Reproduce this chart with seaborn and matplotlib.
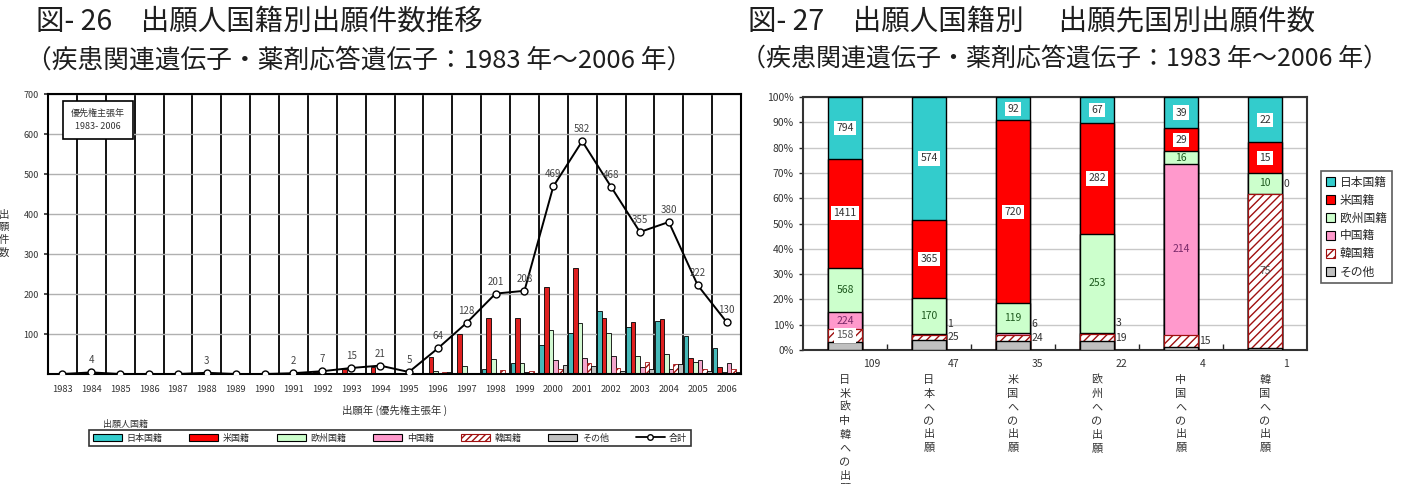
import numpy as np
import pandas as pd
import matplotlib
matplotlib.use("Agg")
import matplotlib.pyplot as plt
import seaborn as sns
from matplotlib.patches import Patch
from matplotlib.lines import Line2D

# ---------------- data (left: 図-26) ----------------
years = [str(y) for y in range(1983, 2007)]
nationalities = ["日本国籍", "米国籍", "欧州国籍", "中国籍", "韓国籍", "その他"]
jp_by_year    = [0, 0, 0, 0, 0, 0, 0, 0, 0, 0, 1, 2, 2, 2, 3, 12, 28, 72, 102, 157, 118, 132, 95, 64]
us_by_year    = [0, 4, 0, 0, 0, 3, 0, 0, 2, 6, 12, 18, 3, 43, 99, 139, 141, 218, 264, 141, 129, 137, 41, 17]
eu_by_year    = [0, 0, 0, 0, 0, 0, 0, 0, 0, 1, 2, 1, 0, 8, 21, 37, 27, 110, 127, 102, 46, 49, 31, 4]
cn_by_year    = [0, 0, 0, 0, 0, 0, 0, 0, 0, 0, 0, 0, 0, 0, 0, 0, 4, 35, 41, 46, 18, 12, 35, 28]
kr_by_year    = [0, 0, 0, 0, 0, 0, 0, 0, 0, 0, 0, 0, 0, 6, 2, 10, 7, 12, 28, 14, 31, 24, 12, 12]
other_by_year = [0, 0, 0, 0, 0, 0, 0, 0, 0, 0, 0, 0, 0, 5, 3, 3, 1, 22, 20, 8, 13, 26, 8, 5]
total_by_year = [0, 4, 0, 0, 0, 3, 0, 0, 2, 7, 15, 21, 5, 64, 128, 201, 208, 469, 582, 468, 355, 380, 222, 130]

# ---------------- data (right: 図-27) ----------------
destinations = ["日米欧中韓　への出願", "日本　への出願", "米国　への出願",
                "欧州　への出願", "中国　への出願", "韓国　への出願"]
dest_jp    = [794, 574, 92, 67, 39, 22]
dest_us    = [1411, 365, 720, 282, 29, 15]
dest_eu    = [568, 170, 119, 253, 16, 10]
dest_cn    = [224, 1, 6, 3, 214, 0]
dest_kr    = [158, 25, 24, 19, 15, 75]
dest_other = [109, 47, 35, 22, 4, 1]

# ---------------- style ----------------
sns.set_theme(style="white")
plt.rcParams["font.family"] = ["Noto Sans CJK JP", "DejaVu Sans"]
plt.rcParams["axes.unicode_minus"] = False

colors = {"日本国籍": "#33CCCC", "米国籍": "#FF0000", "欧州国籍": "#CCFFCC",
          "中国籍": "#FF99CC", "韓国籍": "#FFFFFF", "その他": "#C0C0C0"}
hatch_color = "#A01010"

W, H = 1401, 484
fig = plt.figure(figsize=(W / 100, H / 100), dpi=100)

def ax_rect(x0, y0, x1, y1):
    return [x0 / W, 1 - y1 / H, (x1 - x0) / W, (y1 - y0) / H]

# ================= LEFT CHART =================
ax1 = fig.add_axes(ax_rect(48, 94, 741, 374))
series = [jp_by_year, us_by_year, eu_by_year, cn_by_year, kr_by_year, other_by_year]
long = pd.DataFrame({
    "year": np.repeat([years], len(nationalities), axis=0).ravel(),
    "nat": np.repeat(nationalities, len(years)),
    "value": np.concatenate(series),
})
sns.barplot(data=long, x="year", y="value", hue="nat", order=years,
            hue_order=nationalities, palette=colors, width=0.96,
            edgecolor="black", linewidth=0.6, legend=False, ax=ax1)
for p in ax1.containers[4].patches:
    p.set_hatch("/////")
    p.set_edgecolor(hatch_color)

xpos = np.arange(len(years))
sns.lineplot(x=xpos, y=total_by_year, ax=ax1, color="black", linewidth=1.4,
             marker="o", markersize=5, markerfacecolor="white",
             markeredgecolor="black", markeredgewidth=1.0, zorder=5)
for xi, v in zip(xpos, total_by_year):
    if v > 0:
        ax1.annotate(str(v), (xi, v), xytext=(0, 5), textcoords="offset points",
                     ha="center", va="bottom", fontsize=7, color="#444444", zorder=6)

ax1.set_xlim(-0.5, len(years) - 0.5)
ax1.set_ylim(0, 700)
ax1.set_yticks(range(100, 701, 100))
ax1.set_xticks(xpos)
ax1.set_xticklabels(years, fontsize=6.7, color="#333333")
ax1.set_xticks(np.arange(-0.5, len(years), 1.0), minor=True)
ax1.tick_params(axis="y", labelsize=6.5, colors="#333333", length=3, direction="out", left=True)
ax1.tick_params(axis="x", which="both", length=0, pad=8)
ax1.grid(axis="y", which="major", color="#B0B0B0", linewidth=1.0)
ax1.grid(axis="x", which="minor", color="black", linewidth=1.3)
ax1.set_axisbelow(True)
for s in ax1.spines.values():
    s.set_color("black")
    s.set_linewidth(1.5)
ax1.set_xlabel("出願年 (優先権主張年 )", fontsize=7.5, color="#333333", labelpad=8)
ax1.set_ylabel("出\n願\n件\n数", rotation=0, fontsize=7.5, color="#333333",
               linespacing=1.35, labelpad=14, va="center")
ax1.text(0.072, 0.907, "優先権主張年\n1983- 2006", transform=ax1.transAxes,
         fontsize=6.5, color="#333333", ha="center", va="center", linespacing=1.6,
         bbox=dict(boxstyle="square,pad=0.85", fc="white", ec="black", lw=1.2), zorder=7)

# bottom legend
handles = []
for n in nationalities:
    if n == "韓国籍":
        handles.append(Patch(facecolor="white", edgecolor=hatch_color, hatch="/////", lw=0.8))
    else:
        handles.append(Patch(facecolor=colors[n], edgecolor="black", lw=0.8))
handles.append(Line2D([0], [0], color="black", lw=1.3, marker="o", markersize=4,
                      markerfacecolor="white", markeredgecolor="black"))
leg1 = fig.legend(handles, nationalities + ["合計"], ncol=7, loc="center",
                  bbox_to_anchor=(390 / W, 1 - 438 / H), fontsize=6.5, frameon=True,
                  fancybox=False, edgecolor="black", handlelength=3.2, handleheight=0.7,
                  columnspacing=3.0, handletextpad=0.5, borderpad=0.4)
leg1.get_frame().set_linewidth(1.2)
fig.text(103 / W, 1 - 424 / H, "出願人国籍", fontsize=6.5, color="#333333", va="center")

# ================= RIGHT CHART =================
ax2 = fig.add_axes(ax_rect(803, 97, 1307, 350))
dest_df = pd.DataFrame({"dest": destinations, "日本国籍": dest_jp, "米国籍": dest_us,
                        "欧州国籍": dest_eu, "中国籍": dest_cn, "韓国籍": dest_kr,
                        "その他": dest_other})
tot = dest_df[nationalities].sum(axis=1)
pct = dest_df[nationalities].div(tot, axis=0) * 100
stack_order = ["その他", "韓国籍", "中国籍", "欧州国籍", "米国籍", "日本国籍"]
cum = pct[stack_order].cumsum(axis=1)

for n in reversed(stack_order):
    is_kr = n == "韓国籍"
    sns.barplot(x=dest_df["dest"], y=cum[n], order=destinations, color=colors[n],
                saturation=1, width=0.4,
                edgecolor=hatch_color if is_kr else "black",
                linewidth=0.9 if is_kr else 1.0, ax=ax2, zorder=3)
    if is_kr:
        for p in ax2.containers[-1].patches:
            p.set_hatch("////")

label_color = {"日本国籍": "#333333", "米国籍": "#333333", "欧州国籍": "#1E5A1E",
               "中国籍": "#7A2A6A", "韓国籍": "#555555", "その他": "#333333"}
boxed = {"日本国籍", "米国籍"}
for i in range(len(destinations)):
    for n in stack_order:
        v = dest_df.loc[i, n]
        p = pct.loc[i, n]
        top = cum.loc[i, n]
        mid = top - p / 2
        if n == "その他":
            ax2.text(i + 0.22, -5.5, str(v), fontsize=7.5, color="#333333",
                     ha="left", va="center", clip_on=False)
        elif p >= 4.8:
            use_box = n in boxed or (n == "韓国籍" and p < 10)
            bb = dict(boxstyle="square,pad=0.2", fc="white", ec="none") if use_box else None
            ax2.text(i, mid, str(v), fontsize=7.5, color=label_color[n],
                     ha="center", va="center", bbox=bb, zorder=6)
        elif n == "韓国籍":
            ax2.text(i + 0.22, mid, str(v), fontsize=7.5, color="#333333",
                     ha="left", va="center", zorder=6)
        elif n == "中国籍":
            ax2.text(i + 0.22, mid + 4, str(v), fontsize=7.5, color="#333333",
                     ha="left", va="center", zorder=6)
        else:
            ax2.text(i, mid, str(v), fontsize=7.5, color=label_color[n],
                     ha="center", va="center", zorder=6)

ax2.set_ylim(0, 100)
ax2.set_xlim(-0.5, len(destinations) - 0.5)
ax2.set_yticks(range(0, 101, 10))
ax2.set_yticklabels([f"{t}%" for t in range(0, 101, 10)], fontsize=7.5, color="#333333")
ax2.set_xticks(range(len(destinations)))
ax2.set_xticklabels(["\n".join(list(d.replace("　", ""))) for d in destinations],
                    fontsize=8, color="#333333", linespacing=1.45, va="top")
ax2.set_xticks(np.arange(0.5, len(destinations) - 0.5, 1.0), minor=True)
ax2.tick_params(axis="x", which="major", length=0, pad=18)
ax2.tick_params(axis="x", which="minor", length=4, direction="in", bottom=True, width=1)
ax2.tick_params(axis="y", length=3, direction="out", left=True, width=1)
ax2.grid(axis="y", color="#C8C8C8", linewidth=1.0)
ax2.set_axisbelow(True)
ax2.set_xlabel("")
ax2.set_ylabel("")
for s in ax2.spines.values():
    s.set_color("#333333")
    s.set_linewidth(1.5)

rhandles = []
for n in nationalities:
    if n == "韓国籍":
        rhandles.append(Patch(facecolor="white", edgecolor=hatch_color, hatch="////", lw=0.8))
    else:
        rhandles.append(Patch(facecolor=colors[n], edgecolor="black", lw=0.8))
leg2 = fig.legend(rhandles, nationalities, loc="upper left",
                  bbox_to_anchor=(1315 / W, 1 - 165 / H), fontsize=8.5, frameon=True,
                  fancybox=False, edgecolor="#333333", handlelength=0.8, handleheight=0.8,
                  handletextpad=0.4, labelspacing=0.42, borderpad=0.4)
leg2.get_frame().set_linewidth(1.2)

# ================= TITLES =================
title_kw = dict(color="#1E1E1E", va="center", ha="left")
fig.text(36 / W, 1 - 22 / H, "図- 26　出願人国籍別出願件数推移", fontsize=20.5, **title_kw)
fig.text(26 / W, 1 - 60 / H, "（疾患関連遺伝子・薬剤応答遺伝子：1983 年～2006 年）",
         fontsize=18.5, **title_kw)
fig.text(748 / W, 1 - 22 / H, "図- 27　出願人国籍別　 出願先国別出願件数", fontsize=20.5,
         **title_kw)
fig.text(741 / W, 1 - 60 / H, "（疾患関連遺伝子・薬剤応答遺伝子：1983 年～2006 年）",
         fontsize=18, **title_kw)

fig.savefig("out.png", dpi=100)
